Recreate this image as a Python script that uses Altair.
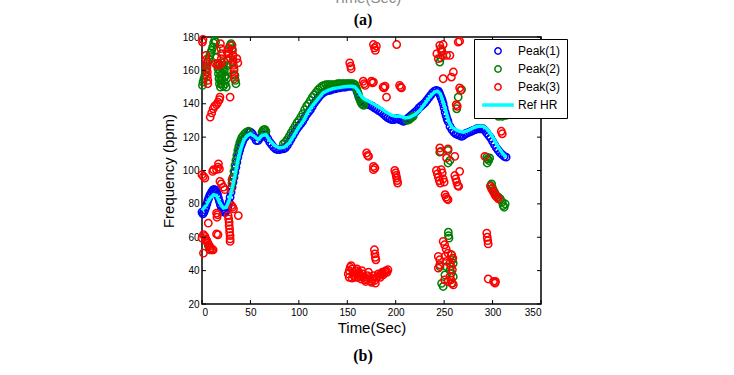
import altair as alt
import pandas as pd

# ------------------------------------------------------------------ data
series_names = ["Peak(1)", "Peak(2)", "Peak(3)", "Ref HR"]
series_colors = ["#0000ff", "#008000", "#ff0000", "#00ffff"]
x_ticks = [0, 50, 100, 150, 200, 250, 300, 350]
y_ticks = [20, 40, 60, 80, 100, 120, 140, 160, 180]
panel_labels = ["(a)", "(b)"]
prev_title = ["Time(Sec)"]

# reference heart rate (time s, bpm)
ref_t = [0, 4, 8, 12, 15, 18, 22, 25, 28, 31, 34, 37, 40, 43, 46, 50, 54, 58, 62, 66,
         70, 75, 80, 85, 90, 95, 100, 105, 110, 115, 120, 125, 130, 135, 140, 145, 150,
         155, 158, 161, 164, 167, 172, 178, 184, 190, 196, 200, 205, 210, 215, 220, 225,
         230, 235, 240, 243, 246, 249, 252, 255, 258, 262, 266, 270, 275, 280, 285, 290,
         294, 298, 302, 306, 310, 314]
ref_f = [76, 79, 83, 85.5, 85, 81, 77.5, 78, 82, 89, 97, 106, 113, 118, 120.5, 122, 120.5,
         118.5, 121, 121.5, 118, 115, 113.5, 114, 116.5, 121, 126, 130, 135.5, 139.5, 143,
         146.5, 148, 149, 149.5, 150, 150.3, 150.5, 150, 148, 145, 143, 141.5, 139.5, 137.5,
         135, 133, 132.5, 132.5, 131.5, 132, 133.5, 136, 140, 144, 147, 147.5, 146, 141, 135,
         129, 126, 124.5, 123.5, 123, 124, 125.5, 126.5, 126.5, 125, 122, 118, 114, 110.5, 108]

# Peak(1): [time, bpm]
peak1 = [[0, 75], [1, 74], [2, 75], [3, 76.5], [4, 78], [5, 80], [6, 82], [7, 83.5], [8, 85],
         [9, 86], [10, 87], [11, 88], [12, 88.5], [13, 88.5], [14, 88], [15, 87], [16, 85.5],
         [17, 83.5], [18, 81.5], [19, 79.5], [20, 78], [21, 76.5], [22, 75.5], [23, 75],
         [24, 75], [25, 76], [26, 77.5], [27, 79], [28, 81], [29, 84], [30, 87], [31, 90],
         [32, 93], [33, 96], [34, 99], [35, 102], [36, 105], [37, 108], [38, 110.5],
         [39, 112.5], [40, 114.5], [41, 116], [42, 117.5], [44, 119.5], [46, 121],
         [48, 122.5], [50, 123], [52, 122], [54, 120], [56, 118], [58, 118], [60, 119.5],
         [62, 121], [64, 121.5], [66, 121], [68, 119], [70, 117], [72, 115.5], [74, 114],
         [76, 113], [78, 112.5], [80, 112.5], [82, 113], [84, 113], [86, 113.5], [88, 115],
         [90, 117], [92, 119], [94, 121], [96, 123], [98, 125], [100, 126.5], [102, 128],
         [104, 129.5], [106, 131.5], [108, 133.5], [110, 135], [112, 136.5], [114, 138.5],
         [116, 140.5], [118, 142], [120, 143.5], [122, 145], [124, 146], [126, 147],
         [128, 147.5], [130, 148], [132, 148], [134, 148.5], [136, 149], [138, 149],
         [140, 149.5], [142, 149.5], [144, 150], [146, 150], [148, 150], [150, 150.5],
         [152, 150.5], [154, 150.5], [156, 150.5], [158, 150], [160, 147.5], [161, 146],
         [162, 144], [164, 142], [166, 141], [168, 140.5], [170, 140], [172, 139.5],
         [174, 139], [176, 138.5], [178, 137.5], [180, 137], [182, 136], [184, 135.5],
         [186, 134.5], [188, 133.5], [190, 132.5], [192, 131.5], [194, 131], [196, 130.5],
         [198, 130.5], [200, 131], [202, 131], [204, 130.5], [206, 130], [208, 129.5],
         [210, 130], [212, 131], [214, 132], [216, 133], [218, 134], [220, 135], [222, 136],
         [224, 137.5], [226, 138.5], [228, 139.5], [230, 140.5], [232, 142], [234, 143.5],
         [236, 145], [238, 146.5], [240, 147.5], [242, 148], [244, 147.5], [245, 146.5],
         [246, 145], [247, 143.5], [248, 142], [249, 140], [250, 137.5], [251, 135],
         [252, 133], [253, 131], [254, 129.5], [256, 126.5], [258, 124.5], [260, 123],
         [262, 122], [264, 121.5], [266, 121], [268, 120.5], [270, 121], [272, 122],
         [274, 122.5], [276, 123], [278, 123.5], [280, 124], [282, 124.5], [284, 125],
         [286, 125], [288, 125], [290, 125], [292, 124], [294, 122.5], [296, 121],
         [298, 119.5], [300, 117.5], [302, 115.5], [304, 113.5], [306, 112], [308, 110.5],
         [310, 109.5], [312, 108.5], [314, 108]]

# Peak(2): [time, bpm]
peak2_top_left = [[0.5, 151], [1, 153], [2, 155], [3, 157], [4, 160], [5, 162.5], [6, 165],
                  [7, 167], [8, 169], [9, 170.5], [10, 172], [11, 174], [12, 176.5], [13, 178],
                  [14, 177], [15, 172], [15.5, 168], [16, 164], [16.5, 161], [17, 158],
                  [17.5, 155], [18, 152], [19, 150], [18, 163], [18, 160], [19, 157], [19, 154],
                  [20, 152], [20.5, 155], [21, 158], [21.5, 161], [22, 163], [23, 165],
                  [23, 160], [23.5, 156], [24, 152], [25, 150], [25.5, 155], [26, 160],
                  [26, 163], [26.5, 166], [27, 170], [28, 173], [29, 175], [30, 176], [31, 173],
                  [32, 169], [32, 165], [33, 161], [34, 157], [34.5, 154], [35, 152],
                  [22, 150.5], [24, 157]]
peak2_track = [[30, 89], [31, 92.5], [32, 96], [33, 99.5], [34, 103], [35, 106], [36, 109],
               [37, 112], [38, 114.5], [39, 116.5], [40, 118], [41, 119.5], [42, 120.5],
               [44, 122], [46, 123], [48, 123.5], [62, 123], [63, 124], [64, 124.5],
               [65, 124.5], [66, 123.5], [84, 116], [86, 117], [88, 118.5], [90, 120.5],
               [92, 122.5], [94, 124.5], [96, 126.5], [98, 128.5], [100, 130], [102, 132],
               [104, 134], [106, 136.5], [108, 138.5], [110, 140], [112, 142], [114, 144],
               [116, 145.5], [118, 147], [120, 148.5], [122, 149.5], [124, 150.5],
               [126, 151], [128, 151.5], [130, 151.5], [132, 151.5], [134, 151.5],
               [136, 151.5], [138, 151.5], [140, 152], [142, 152], [144, 152], [146, 152],
               [148, 152], [150, 152], [152, 152], [154, 152], [156, 152], [158, 151.5],
               [159, 150], [160, 148.5], [161, 146.5], [162, 144.5], [163, 142.5],
               [164, 141], [165, 140], [166, 139.5], [167, 139], [212, 130], [214, 130.5],
               [216, 131.5], [218, 132.5]]
peak2_right = [[245.5, 165], [246.5, 167.5], [247.5, 172], [268, 148.5], [264.5, 144],
               [263, 137], [306, 132.5], [308, 133], [310, 132.5], [312, 133.5], [314, 133],
               [294, 108], [295, 107], [296, 106], [294.5, 104.5], [297, 107.5],
               [245.5, 111], [254, 112], [256, 106], [254, 104.5], [298, 91], [299, 92],
               [300, 89.5], [301, 88], [302, 87], [304, 85], [306, 84], [308, 83], [310, 81],
               [311, 79], [312, 78], [313, 80], [254.3, 63], [254.5, 61], [255, 59.5],
               [245.7, 42.4], [247.4, 32.4], [250.8, 37.4], [252.5, 42.4], [256, 40.4],
               [257.5, 38.5], [259.4, 36.4], [257.7, 49.4], [258.5, 46.5], [259.4, 44.4],
               [257.7, 32.4], [249, 30.5]]
peak2_low_left = [[5, 57.5], [6.5, 55], [8, 52.5]]

# Peak(3): [time, bpm]
peak3_top_left = [[0.5, 177], [1, 178.5], [4, 169], [4.5, 166.5], [5, 164], [5, 161.5],
                  [5.5, 159], [5.5, 156.5], [6, 154], [6, 152], [14, 164], [16, 163],
                  [18, 163.5], [19, 176], [19.5, 173], [20, 170], [20, 167], [20.5, 164.5],
                  [26, 171], [27, 173], [28, 170], [29, 167.5], [31, 175], [31.5, 172],
                  [32, 169], [32, 166], [32.5, 163], [33, 160], [33, 157.5], [33.5, 155],
                  [36, 167], [37, 164.5], [29, 144], [8.5, 132], [10, 134.5], [11.5, 137],
                  [13, 138.5], [15, 139.5], [16.5, 141], [18, 142.5], [18.5, 144]]
peak3_low_left = [[0, 97.5], [1.5, 96.5], [3, 95.5], [11, 99.5], [12, 100.5], [15, 100.5],
                  [16.5, 102], [17, 104], [18, 101], [18.5, 93.5], [20, 92], [22, 90],
                  [23.5, 88.5], [29.5, 89], [31, 94.5], [15, 74.5], [16, 73.5], [15.5, 72],
                  [6.5, 68.5], [30.5, 79], [31.5, 78], [32.5, 77], [37.5, 73], [27, 73],
                  [27.5, 71], [28, 69], [28, 67], [28.5, 65], [28.5, 63], [29, 61], [29, 59],
                  [29, 57.5], [15, 62], [16.5, 61.5], [0, 59.5], [1.5, 61.5], [3, 60.5],
                  [4, 59], [5, 58], [6, 56.5], [7, 55.5], [8, 54.5], [9, 53.5], [10, 52.5],
                  [11.5, 52.5], [1.5, 50.5]]
peak3_middle = [[152.5, 164.5], [153.5, 162.5], [154, 161], [166.5, 153.5], [167.5, 152],
                [168.5, 151], [175, 153.5], [176, 152.5], [177, 153], [187, 150],
                [188, 149.5], [189, 150.5], [190.5, 144], [204, 151], [205, 150],
                [206, 149.5], [177, 175.5], [178, 173.5], [179, 172], [180, 174.5],
                [201, 175.5], [170, 110.5], [171, 109], [172, 108.5], [177, 102.5],
                [178.5, 101.5], [177, 100.5], [199, 100], [200, 98.5], [200.5, 97],
                [201, 95.5], [201.5, 94], [202, 92.5], [178, 52.5], [178.5, 50], [179, 48],
                [179.5, 46.5]]
peak3_bottom = [[151, 38], [152, 40], [153, 42], [154, 43], [155, 41], [156, 39], [157, 37],
                [158, 36], [159, 40], [160, 38], [161, 36], [162, 39], [163, 37.5], [164, 35],
                [165, 36.5], [166, 38], [167, 36], [168, 34.5], [169, 33.5], [170, 35],
                [171, 37], [172, 39], [173, 36], [174, 34], [175, 33], [176, 35], [177, 37],
                [178, 34], [179, 32.5], [180, 36], [182, 38], [183, 37], [184, 36], [185, 38],
                [186, 39], [187, 37.5], [188, 38.5], [189, 39.5], [190, 40], [191, 39],
                [192, 40.5], [152, 36], [155, 35.5], [160, 41], [165, 40]]
peak3_right = [[242.5, 170], [244, 167], [245.5, 175], [246.5, 173], [247.5, 171],
               [248.5, 169], [249, 175.5], [252.5, 169], [256, 169], [249, 155],
               [257.5, 156], [259.5, 159], [264.5, 177], [266, 177.5], [266, 149.5],
               [267, 148], [262.5, 139.5], [263.5, 138.5], [245.5, 113.5], [246.5, 111.5],
               [254, 113], [252.5, 107.5], [261, 108.5], [242, 100], [243, 98], [244, 96],
               [245, 94], [246, 92.5], [247, 100.5], [248, 98.5], [249, 95], [250, 93],
               [261, 97], [262, 95], [263, 93], [264, 91], [265, 90.5], [266, 99.5],
               [251, 85.5], [252, 84], [253, 83], [254, 82.5], [244, 48.5], [245.5, 46.5],
               [245.5, 43.5], [244, 41.5], [249, 57.5], [250.5, 55.5], [252, 53],
               [254, 50.5], [251, 48.5], [252.5, 45.5], [257.5, 49.5], [259, 47.5],
               [256, 44.5], [257, 42.5], [258.5, 40.5], [256, 36.5], [257, 34.5],
               [258.5, 32.5], [259.5, 31.5], [250.5, 34.5], [254, 33.5], [294, 62.5],
               [294.5, 60], [295, 58], [295.5, 56], [295.5, 35], [301, 33.5], [302.5, 32.5],
               [303, 33.5], [298, 90.5], [299, 89], [300.5, 87.5], [302, 86], [303, 85],
               [304.5, 84], [306, 83], [305, 135], [306, 136.5], [307, 137], [308, 136],
               [309, 135], [310, 134.5], [311, 136], [312, 137], [313, 135.5], [314, 136],
               [315, 134.5], [316, 135.5], [309, 123.5], [310, 122], [292, 108.5]]

# ------------------------------------------------------------------ tables
def table(pairs, name):
    return pd.DataFrame({"t": [p[0] for p in pairs], "f": [p[1] for p in pairs], "series": name})

peaks = pd.concat([
    table(peak1, "Peak(1)"),
    table(peak2_top_left + peak2_track + peak2_right + peak2_low_left, "Peak(2)"),
    table(peak3_top_left + peak3_low_left + peak3_middle + peak3_bottom + peak3_right, "Peak(3)"),
], ignore_index=True)
ref = pd.DataFrame({"t": ref_t, "f": ref_f, "series": "Ref HR"})
xt = pd.DataFrame({"t": x_ticks})
yt = pd.DataFrame({"f": y_ticks})

W, H = 339, 267
FONT = "Liberation Sans"
xs = alt.Scale(domain=[0, 350], nice=False, zero=False)
ys = alt.Scale(domain=[20, 180], nice=False, zero=False)
x_axis = alt.Axis(values=x_ticks, title="Time(Sec)", grid=False, ticks=False, domain=False,
                  labelPadding=3, titlePadding=3, labelOverlap=False)
y_axis = alt.Axis(values=y_ticks, title="Frequency (bpm)", grid=False, ticks=False, domain=False,
                  labelPadding=3, titlePadding=6, labelOverlap=False)
X = alt.X("t:Q", scale=xs, axis=x_axis)
Y = alt.Y("f:Q", scale=ys, axis=y_axis)

leg = alt.Legend(title=None)
c_scale = alt.Scale(domain=series_names, range=series_colors)
s_scale = alt.Scale(domain=series_names, range=["circle", "circle", "circle", "M-5,0L5,0"])
w_scale = alt.Scale(type="ordinal", domain=series_names, range=[1.5, 1.5, 1.5, 3.5])

points = alt.Chart(peaks).mark_point(filled=False, size=54, opacity=1).encode(
    x=X, y=Y,
    color=alt.Color("series:N", scale=c_scale, legend=leg),
    shape=alt.Shape("series:N", scale=s_scale, legend=leg),
    strokeWidth=alt.StrokeWidth("series:O", scale=w_scale, legend=leg),
)
line = alt.Chart(ref).mark_line(strokeWidth=3.5).encode(
    x=X, y=Y,
    color=alt.Color("series:N", scale=c_scale, legend=leg),
)

tick_style = dict(color="black", strokeWidth=1)
bottom_ticks = alt.Chart(xt).mark_rule(**tick_style).encode(x=X, y=alt.value(H), y2=alt.value(H - 4))
top_ticks = alt.Chart(xt).mark_rule(**tick_style).encode(x=X, y=alt.value(0), y2=alt.value(4))
left_ticks = alt.Chart(yt).mark_rule(**tick_style).encode(y=Y, x=alt.value(0), x2=alt.value(4))
right_ticks = alt.Chart(yt).mark_rule(**tick_style).encode(y=Y, x=alt.value(W), x2=alt.value(W - 4))

lab_a = alt.Chart(pd.DataFrame({"lab": panel_labels[:1]})).mark_text(
    font="Liberation Serif", fontSize=16, fontWeight="bold", color="black", baseline="middle"
).encode(text="lab:N", x=alt.value(161), y=alt.value(-17))
lab_b = alt.Chart(pd.DataFrame({"lab": panel_labels[1:]})).mark_text(
    font="Liberation Serif", fontSize=16, fontWeight="bold", color="black", baseline="middle"
).encode(text="lab:N", x=alt.value(161), y=alt.value(319))
prev = alt.Chart(pd.DataFrame({"lab": prev_title})).mark_text(
    font=FONT, fontSize=15, color="#8a8a8a", baseline="alphabetic"
).encode(text="lab:N", x=alt.value(165), y=alt.value(-34))

chart = alt.layer(
    points, line, bottom_ticks, top_ticks, left_ticks, right_ticks, lab_a, lab_b, prev
).properties(
    width=W, height=H,
    autosize=alt.AutoSizeParams(type="none"),
    padding={"left": 202, "top": 37, "right": 193, "bottom": 71},
    background="white",
).configure_view(
    stroke="black", strokeWidth=1.5
).configure_axis(
    labelFont=FONT, labelFontSize=10, labelColor="black", labelOverlap=False,
    titleFont=FONT, titleFontSize=15, titleFontWeight="normal", titleColor="black",
).configure_legend(
    orient="none", legendX=272, legendY=2, padding=6,
    symbolOffset=12, labelOffset=14, rowPadding=4,
    labelFont=FONT, labelFontSize=12, labelColor="black",
    strokeColor="black", fillColor="white", symbolSize=40, cornerRadius=0,
)

chart.save("out.html", embed_options={"renderer": "svg", "actions": False})
